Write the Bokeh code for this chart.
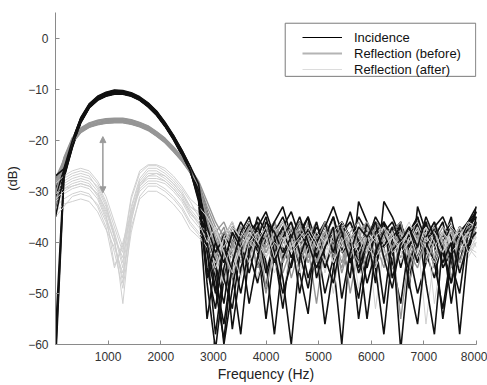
from bokeh.plotting import figure
from bokeh.models import Range1d, FixedTicker, Legend, LegendItem, Arrow, NormalHead, BoxAnnotation
from bokeh.embed import file_html
from bokeh.resources import INLINE

# frequency bins (Hz)
freq = list(range(0, 8001, 160))

x_ticks = [1000, 2000, 3000, 4000, 5000, 6000, 7000, 8000]
y_ticks = [-60, -50, -40, -30, -20, -10, 0]

# Incidence (dB)
incidence_1 = [-28.0,-26.0,-20.5,-16.0,-13.3,-11.8,-11.0,-10.6,-10.6,-11.0,-11.8,-13.0,-14.6,-16.8,-19.3,-22.2,-25.5,-29.5] + \
    [-36,-44,-52,-40,-37,-42,-48,-39,-36,-41,-45,-38,-35,-40,-50,-43,-37,-39,-46,-41,-36,-38,-44,-52,-40,-37,-42,-47,-39,-36,-40,-38,-34]
incidence_2 = [-62.0,-27.0,-21.0,-16.3,-13.5,-12.0,-11.2,-10.8,-10.8,-11.2,-12.0,-13.3,-14.9,-17.1,-19.6,-22.6,-26.0,-31.0] + \
    [-41,-58,-45,-38,-43,-36,-40,-55,-42,-37,-34,-39,-47,-41,-36,-44,-60,-40,-35,-38,-43,-37,-41,-36,-49,-33,-38,-45,-40,-35,-44,-37,-35]
incidence_3 = [-30.0,-26.5,-20.0,-15.7,-13.0,-11.5,-10.7,-10.3,-10.4,-10.8,-11.6,-12.8,-14.4,-16.6,-19.1,-22.0,-25.2,-30.0] + \
    [-48,-61,-47,-40,-36,-39,-45,-37,-42,-53,-40,-36,-38,-43,-39,-35,-41,-47,-32,-36,-45,-58,-42,-37,-39,-44,-36,-40,-55,-43,-37,-39,-33]
incidence_4 = [-27.5,-25.5,-20.8,-16.2,-13.4,-11.9,-11.1,-10.7,-10.7,-11.1,-11.9,-13.1,-14.7,-16.9,-19.5,-22.4,-25.8,-32.0] + \
    [-55,-44,-38,-42,-50,-41,-35,-38,-44,-40,-37,-46,-54,-39,-36,-40,-37,-43,-51,-40,-37,-41,-38,-36,-42,-50,-44,-38,-41,-48,-39,-36,-35]
incidence_5 = [-33.0,-26.8,-21.2,-16.5,-13.6,-12.1,-11.3,-10.9,-10.9,-11.3,-12.1,-13.4,-15.0,-17.2,-19.8,-22.8,-26.3,-29.0] + \
    [-38,-47,-56,-44,-39,-36,-42,-49,-38,-35,-40,-44,-37,-42,-56,-45,-38,-36,-40,-38,-48,-32,-35,-39,-46,-40,-36,-44,-39,-52,-41,-37,-34]
incidence_6 = [-58.0,-26.2,-20.3,-15.9,-13.1,-11.7,-10.9,-10.5,-10.5,-10.9,-11.7,-12.9,-14.5,-16.7,-19.2,-22.1,-25.4,-28.8] + \
    [-34,-40,-47,-53,-41,-38,-36,-44,-58,-43,-39,-36,-42,-38,-45,-40,-37,-44,-39,-48,-42,-36,-39,-61,-44,-38,-40,-37,-45,-42,-37,-41,-36]
incidence_7 = [-29.0,-27.2,-21.5,-16.6,-13.7,-12.2,-11.4,-11.0,-11.0,-11.4,-12.2,-13.5,-15.1,-17.3,-19.9,-22.9,-26.2,-30.5] + \
    [-42,-50,-40,-46,-58,-42,-37,-40,-36,-33,-39,-50,-41,-37,-39,-35,-42,-40,-55,-43,-38,-41,-37,-45,-38,-35,-43,-39,-36,-44,-50,-38,-37]
incidence_8 = [-31.0,-25.8,-20.2,-15.8,-13.2,-11.6,-10.8,-10.4,-10.5,-10.9,-11.7,-12.9,-14.5,-16.7,-19.2,-22.3,-25.6,-28.5] + \
    [-39,-44,-60,-49,-40,-36,-38,-46,-40,-37,-43,-39,-35,-47,-41,-38,-36,-39,-44,-36,-40,-52,-39,-37,-41,-36,-48,-58,-40,-37,-39,-42,-36]
incidence_9 = [-29.5,-26.4,-20.7,-16.1,-13.4,-11.9,-11.1,-10.7,-10.7,-11.1,-11.9,-13.2,-14.8,-17.0,-19.5,-22.5,-25.9,-30.8] + \
    [-45,-53,-41,-37,-40,-46,-39,-35,-42,-50,-44,-38,-41,-36,-43,-48,-39,-34,-40,-45,-38,-36,-47,-41,-39,-35,-40,-44,-53,-42,-38,-36,-34]
incidence_10 = [-64.0,-27.5,-21.3,-16.4,-13.5,-12.0,-11.2,-10.8,-10.9,-11.3,-12.1,-13.4,-15.0,-17.2,-19.7,-22.7,-26.1,-29.8] + \
    [-37,-42,-39,-57,-45,-40,-37,-34,-39,-47,-60,-43,-38,-40,-37,-42,-36,-39,-45,-40,-35,-38,-42,-39,-48,-56,-41,-37,-35,-39,-46,-40,-38]
incidence_11 = [-27.0,-25.6,-20.1,-15.6,-12.9,-11.4,-10.6,-10.2,-10.3,-10.7,-11.5,-12.7,-14.3,-16.5,-19.0,-21.9,-25.1,-28.6] + \
    [-40,-49,-59,-44,-38,-35,-41,-37,-44,-39,-36,-42,-49,-40,-37,-33,-38,-44,-41,-55,-42,-38,-36,-40,-37,-43,-39,-36,-42,-48,-40,-36,-33]
incidence_12 = [-35.0,-27.0,-21.1,-16.4,-13.6,-12.1,-11.3,-10.9,-10.9,-11.3,-12.1,-13.3,-14.9,-17.1,-19.7,-22.7,-26.0,-31.5] + \
    [-47,-40,-44,-38,-41,-52,-43,-36,-38,-42,-39,-35,-40,-45,-41,-37,-51,-42,-37,-39,-36,-43,-49,-40,-37,-41,-35,-39,-44,-40,-58,-41,-35]

# Reflection before treatment (dB)
before_1 = [-30.0,-24.0,-20.0,-18.0,-17.0,-16.5,-16.2,-16.1,-16.1,-16.4,-16.9,-17.6,-18.7,-20.0,-21.7,-23.6,-25.8,-28.5] + \
    [-33,-37,-41,-38,-44,-40,-36,-39,-42,-38,-47,-41,-37,-40,-38,-43,-39,-36,-41,-45,-39,-37,-42,-40,-38,-44,-39,-36,-40,-43,-38,-37,-36]
before_2 = [-28.5,-24.5,-20.4,-18.4,-17.4,-16.9,-16.6,-16.5,-16.5,-16.8,-17.3,-18.0,-19.1,-20.4,-22.1,-24.0,-26.3,-29.5] + \
    [-35,-40,-37,-43,-39,-36,-41,-50,-40,-37,-39,-42,-36,-40,-45,-39,-37,-42,-39,-36,-44,-40,-37,-39,-48,-41,-37,-40,-38,-42,-39,-36,-35]
before_3 = [-32.0,-23.6,-19.7,-17.7,-16.7,-16.2,-15.9,-15.8,-15.8,-16.1,-16.6,-17.3,-18.4,-19.7,-21.4,-23.3,-25.5,-28.0] + \
    [-32,-36,-39,-45,-41,-38,-37,-40,-36,-43,-39,-37,-41,-52,-40,-38,-37,-40,-43,-38,-36,-41,-47,-39,-37,-40,-42,-38,-45,-40,-37,-38,-36]
before_4 = [-29.0,-24.3,-20.2,-18.2,-17.2,-16.7,-16.4,-16.3,-16.3,-16.6,-17.1,-17.8,-18.9,-20.2,-21.9,-23.8,-26.0,-29.0] + \
    [-36,-42,-48,-40,-37,-39,-44,-38,-36,-40,-37,-43,-39,-36,-41,-38,-46,-40,-37,-39,-42,-37,-40,-55,-42,-38,-36,-39,-41,-37,-44,-39,-37]
before_5 = [-31.0,-24.8,-20.6,-18.5,-17.5,-17.0,-16.7,-16.6,-16.6,-16.9,-17.4,-18.1,-19.2,-20.5,-22.2,-24.1,-26.4,-29.2] + \
    [-34,-38,-36,-40,-46,-39,-37,-42,-38,-36,-39,-44,-40,-37,-39,-42,-38,-50,-41,-37,-39,-36,-40,-43,-38,-37,-41,-39,-36,-47,-40,-38,-37]
before_6 = [-27.5,-23.8,-19.8,-17.8,-16.8,-16.3,-16.0,-15.9,-16.0,-16.3,-16.8,-17.5,-18.6,-19.9,-21.6,-23.5,-25.7,-28.2] + \
    [-38,-45,-40,-37,-39,-43,-38,-36,-40,-46,-41,-38,-37,-40,-36,-39,-44,-38,-36,-40,-42,-39,-37,-38,-41,-36,-39,-43,-38,-40,-37,-41,-38]
before_7 = [-33.0,-24.6,-20.3,-18.3,-17.3,-16.8,-16.5,-16.4,-16.4,-16.7,-17.2,-17.9,-19.0,-20.3,-22.0,-23.9,-26.2,-29.8] + \
    [-37,-43,-39,-36,-41,-38,-45,-40,-37,-42,-39,-36,-44,-40,-38,-41,-37,-43,-39,-36,-40,-45,-38,-41,-37,-39,-43,-40,-37,-39,-41,-38,-36]
before_8 = [-29.5,-23.4,-19.5,-17.6,-16.6,-16.1,-15.8,-15.7,-15.7,-16.0,-16.5,-17.2,-18.3,-19.6,-21.3,-23.2,-25.4,-28.3] + \
    [-34,-39,-44,-41,-37,-40,-38,-49,-41,-38,-36,-40,-43,-39,-37,-41,-45,-39,-38,-42,-37,-40,-38,-36,-43,-39,-41,-37,-40,-45,-39,-37,-36]
before_9 = [-30.5,-24.2,-20.1,-18.1,-17.1,-16.6,-16.3,-16.2,-16.2,-16.5,-17.0,-17.7,-18.8,-20.1,-21.8,-23.7,-25.9,-29.0] + \
    [-36,-41,-38,-40,-43,-37,-40,-42,-39,-36,-41,-38,-40,-44,-39,-37,-40,-42,-38,-36,-39,-43,-41,-38,-40,-37,-44,-40,-38,-41,-37,-39,-37]
before_10 = [-28.0,-24.7,-20.5,-18.4,-17.4,-16.9,-16.6,-16.5,-16.5,-16.8,-17.3,-18.0,-19.1,-20.4,-22.1,-24.0,-26.2,-28.8] + \
    [-35,-38,-42,-47,-40,-37,-39,-41,-38,-44,-40,-37,-39,-42,-38,-40,-37,-41,-44,-39,-36,-38,-41,-39,-42,-45,-39,-37,-40,-38,-42,-40,-37]

# Reflection after treatment (dB)
after_1 = [-29.0,-28.0,-27.0,-26.5,-27.0,-29.5,-33.0,-38.0,-44.0,-33.0,-27.5,-25.5,-25.5,-26.5,-28.0,-30.0,-33.0,-34.0] + \
    [-37,-40,-44,-39,-36,-41,-38,-45,-40,-37,-42,-39,-48,-41,-38,-36,-40,-43,-38,-41,-37,-39,-45,-40,-38,-36,-42,-39,-44,-38,-40,-37,-38]
after_2 = [-31.0,-29.5,-28.5,-28.0,-28.5,-31.0,-35.0,-40.0,-47.0,-35.0,-29.0,-27.0,-27.0,-28.0,-29.5,-31.5,-34.5,-36.0] + \
    [-39,-43,-38,-41,-50,-42,-38,-36,-40,-44,-39,-37,-41,-38,-46,-40,-37,-39,-42,-38,-53,-41,-38,-40,-37,-43,-39,-41,-38,-36,-45,-40,-39]
after_3 = [-28.0,-27.5,-26.5,-26.0,-26.5,-28.5,-32.0,-37.0,-42.0,-31.5,-26.5,-25.0,-25.0,-26.0,-27.5,-29.5,-32.0,-35.0] + \
    [-36,-39,-42,-38,-40,-37,-47,-41,-38,-39,-36,-42,-40,-38,-41,-50,-39,-37,-40,-44,-38,-36,-41,-39,-43,-40,-37,-52,-41,-38,-39,-42,-40]
after_4 = [-33.0,-31.5,-30.5,-30.0,-30.5,-33.0,-37.0,-45.0,-40.0,-34.0,-30.0,-28.5,-28.5,-29.5,-31.0,-33.0,-36.0,-38.0] + \
    [-40,-44,-48,-42,-39,-41,-38,-43,-40,-37,-41,-45,-39,-42,-38,-40,-43,-39,-37,-48,-41,-39,-43,-40,-38,-42,-39,-37,-40,-44,-39,-41,-42]
after_5 = [-30.0,-29.0,-28.0,-27.5,-28.0,-30.0,-34.0,-39.0,-52.0,-36.0,-28.5,-26.5,-26.5,-27.0,-28.5,-30.5,-33.5,-35.5] + \
    [-38,-41,-39,-45,-40,-36,-39,-42,-38,-51,-40,-37,-39,-41,-38,-36,-42,-39,-45,-40,-37,-40,-38,-42,-46,-39,-37,-40,-38,-41,-39,-43,-40]
after_6 = [-34.0,-32.5,-32.0,-31.5,-32.0,-34.0,-37.5,-41.0,-46.0,-37.0,-31.5,-30.0,-30.0,-31.0,-32.5,-34.5,-37.5,-39.0] + \
    [-41,-46,-40,-38,-42,-39,-44,-40,-37,-41,-39,-43,-40,-47,-41,-38,-40,-42,-39,-37,-41,-44,-40,-38,-41,-39,-56,-42,-39,-40,-38,-41,-43]
after_7 = [-29.5,-28.5,-27.5,-27.0,-27.5,-29.0,-32.5,-39.0,-43.0,-33.5,-28.0,-26.0,-26.0,-27.0,-28.5,-30.5,-33.0,-34.5] + \
    [-37,-42,-39,-36,-40,-44,-39,-37,-41,-38,-43,-40,-37,-39,-42,-38,-36,-40,-39,-42,-38,-37,-41,-39,-36,-40,-43,-38,-41,-37,-39,-36,-37]
after_8 = [-32.0,-30.5,-29.5,-29.0,-29.5,-31.5,-35.5,-40.0,-48.0,-35.5,-29.5,-28.0,-28.0,-28.5,-30.0,-32.0,-35.0,-37.0] + \
    [-39,-45,-41,-43,-38,-40,-42,-39,-46,-40,-38,-41,-39,-44,-40,-37,-41,-39,-42,-40,-38,-43,-39,-41,-37,-40,-38,-45,-40,-39,-42,-38,-39]
after_9 = [-30.5,-29.5,-29.0,-28.5,-29.0,-30.5,-33.5,-38.5,-45.0,-34.5,-28.5,-27.0,-26.5,-27.5,-29.0,-31.0,-34.0,-36.5] + \
    [-38,-42,-40,-37,-43,-39,-41,-38,-44,-40,-37,-41,-39,-45,-40,-38,-42,-39,-37,-41,-43,-40,-38,-44,-39,-41,-37,-40,-42,-39,-38,-41,-40]
after_10 = [-35.0,-33.0,-31.0,-30.5,-31.0,-32.5,-36.0,-42.0,-49.0,-38.0,-31.0,-29.0,-29.0,-30.0,-31.5,-33.5,-36.5,-38.5] + \
    [-41,-44,-39,-42,-47,-40,-38,-43,-40,-42,-39,-46,-41,-38,-40,-44,-39,-42,-40,-38,-45,-41,-39,-42,-40,-37,-41,-44,-39,-42,-40,-38,-41]
after_11 = [-28.5,-27.0,-26.0,-25.5,-26.0,-28.0,-31.0,-36.0,-41.0,-31.0,-26.0,-24.8,-24.8,-25.5,-27.0,-29.0,-31.5,-33.0] + \
    [-35,-38,-41,-37,-39,-36,-40,-43,-38,-36,-41,-39,-37,-40,-44,-38,-36,-39,-42,-38,-40,-37,-39,-41,-38,-36,-40,-38,-42,-37,-39,-36,-37]
after_12 = [-31.5,-30.0,-29.0,-28.5,-29.0,-30.5,-34.5,-44.5,-41.0,-34.5,-29.0,-27.5,-27.5,-28.0,-29.5,-31.5,-34.0,-36.0] + \
    [-40,-37,-42,-46,-41,-38,-40,-37,-43,-39,-42,-40,-38,-41,-37,-44,-40,-38,-49,-41,-39,-37,-42,-40,-38,-43,-39,-41,-38,-40,-37,-42,-39]

# arrow showing reduction (Hz, dB)
arrow_freq = 900
arrow_top = -19.3
arrow_bottom = -30.3

incidence = [incidence_1, incidence_2, incidence_3, incidence_4, incidence_5, incidence_6,
             incidence_7, incidence_8, incidence_9, incidence_10, incidence_11, incidence_12]
before = [before_1, before_2, before_3, before_4, before_5, before_6, before_7, before_8, before_9, before_10]
after = [after_1, after_2, after_3, after_4, after_5, after_6, after_7, after_8, after_9, after_10, after_11, after_12]

C_INC = "#111111"
C_BEF = "#969696"
C_AFT = "#d0d0d0"

p = figure(width=487, height=385, x_range=Range1d(0, 8000), y_range=Range1d(-60, 5),
           output_backend="svg", toolbar_location=None,
           min_border_left=55, min_border_right=11, min_border_top=12, min_border_bottom=41)
p.background_fill_color = "white"
p.border_fill_color = "white"
p.outline_line_color = None
p.xgrid.visible = False
p.ygrid.visible = False

n = max(len(incidence), len(before), len(after))
for i in range(n):
    if i < len(incidence):
        p.line(freq, incidence[i], line_color=C_INC, line_width=1.6)
    if i < len(before):
        p.line(freq, before[i], line_color=C_BEF, line_width=1.4)
    if i < len(after):
        p.line(freq, after[i], line_color=C_AFT, line_width=1.0)

# legend swatches (a single NaN point: nothing is drawn in the plot)
nan = float("nan")
lg_inc = p.line([nan], [nan], line_color="#000000", line_width=1.0)
lg_bef = p.line([nan], [nan], line_color="#b4b4b4", line_width=2.0)
lg_aft = p.line([nan], [nan], line_color="#dcdcdc", line_width=1.0)

p.add_layout(Arrow(x_start=arrow_freq, y_start=arrow_bottom, x_end=arrow_freq, y_end=arrow_top,
                   line_color="#9a9a9a", line_width=1.5,
                   start=NormalHead(size=6, fill_color="#9a9a9a", line_color="#9a9a9a"),
                   end=NormalHead(size=6, fill_color="#9a9a9a", line_color="#9a9a9a")))

for ax, ticks in ((p.xaxis, x_ticks), (p.yaxis, y_ticks)):
    ax.ticker = FixedTicker(ticks=ticks)
    ax.axis_line_color = "#8a8a8a"
    ax.major_tick_line_color = "#8a8a8a"
    ax.major_tick_in = 4
    ax.major_tick_out = 0
    ax.minor_tick_line_color = None
    ax.major_label_text_font = "Liberation Sans"
    ax.major_label_text_font_size = "12px"
    ax.major_label_text_color = "#333333"
    ax.major_label_standoff = 7
    ax.axis_label_text_font = "Liberation Sans"
    ax.axis_label_text_font_style = "normal"
    ax.axis_label_text_color = "#222222"

p.xaxis.axis_label = "Frequency (Hz)"
p.xaxis.axis_label_text_font_size = "14px"
p.xaxis.axis_label_standoff = 2
p.yaxis.axis_label = "(dB)"
p.yaxis.axis_label_text_font_size = "13px"
p.yaxis.axis_label_standoff = 5

# legend frame
p.add_layout(BoxAnnotation(left=4365, right=7985, top=2.9, bottom=-7.5,
                           fill_color="white", fill_alpha=1.0,
                           line_color="#7a7a7a", line_alpha=1.0, line_width=1))

legend = Legend(items=[LegendItem(label="Incidence", renderers=[lg_inc]),
                       LegendItem(label="Reflection (before)", renderers=[lg_bef]),
                       LegendItem(label="Reflection (after)", renderers=[lg_aft])],
                location=(247, 267), padding=3, spacing=0, glyph_width=40, glyph_height=16,
                label_height=16, label_standoff=12, margin=0,
                label_text_font="Liberation Sans", label_text_font_size="13px",
                label_text_color="#111111",
                border_line_color=None, background_fill_alpha=0.0)
p.add_layout(legend)

open("out.html", "w").write(file_html(p, INLINE))
